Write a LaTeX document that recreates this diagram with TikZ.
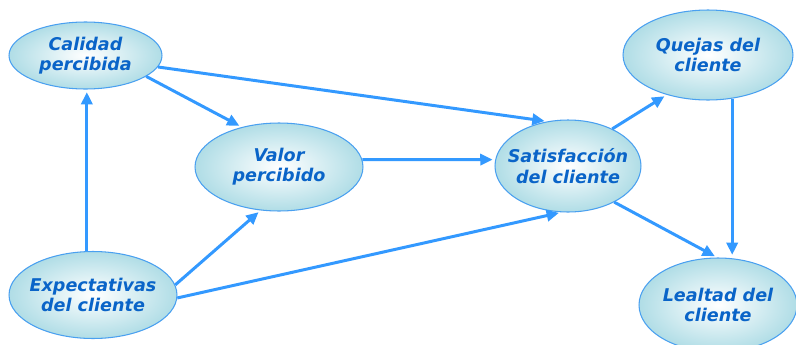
\documentclass[tikz,border=0pt]{standalone}
\usepackage{fontspec}
\newfontfamily\bubblefont{DejaVu Sans}
\usetikzlibrary{shapes.geometric,arrows.meta}

\definecolor{arrowblue}{RGB}{51,153,255}
\definecolor{edgeblue}{RGB}{74,160,240}
\definecolor{bubblecyan}{RGB}{176,221,230}
\definecolor{textblue}{RGB}{10,100,200}

\begin{document}
\begin{tikzpicture}[x=0.02cm, y=-0.02cm,
    bubble/.style={ellipse, draw=edgeblue, line width=0.6pt, inner sep=0pt,
        inner color=white, outer color=bubblecyan},
    txt/.style={text=textblue, align=center,
        font=\bubblefont\bfseries\itshape\fontsize{10}{11.5}\selectfont},
    link/.style={draw=arrowblue, line width=1.7pt, shorten >=1.5pt,
        -{Triangle[length=7pt,width=6.4pt]}}]
    \useasboundingbox (0, 0) rectangle (796, 345);

    % the six constructs (sizes in cm, 1 unit = 0.02cm)
    \node[bubble, minimum width=3.06cm, minimum height=1.34cm] (cal) at (85.5, 55.5) {};
    \node[bubble, minimum width=3.36cm, minimum height=1.76cm] (val) at (279, 167) {};
    \node[bubble, minimum width=2.92cm, minimum height=1.84cm] (sat) at (568, 166) {};
    \node[bubble, minimum width=3.40cm, minimum height=1.80cm] (que) at (708, 55) {};
    \node[bubble, minimum width=3.16cm, minimum height=1.88cm] (lea) at (718, 305) {};
    \node[bubble, minimum width=3.36cm, minimum height=1.74cm] (exp) at (93, 295) {};

    \node[txt] at (cal) {Calidad\\percibida};
    \node[txt] at (val) {Valor\\percibido};
    \node[txt] at (sat) {Satisfacción\\del cliente};
    \node[txt] at (que) {Quejas del\\cliente};
    \node[txt] at (lea) {Lealtad del\\cliente};
    \node[txt] at (exp) {Expectativas\\del cliente};

    % relations
    \draw[link] (exp.98) -- (exp.98 |- cal.south);
    \draw[link] (cal.-19) -- (val.133);
    \draw[link] (cal.-9) -- (sat.115);
    \draw[link] (val.5) -- (sat.175);
    \draw[link] (exp.7) -- (val.-113);
    \draw[link] (exp.-2) -- (sat.-98);
    \draw[link] (sat.40) -- (que.-136);
    \draw[link] (que.-61) -- (que.-61 |- lea.north);
    \draw[link] (sat.-38) -- (lea.91);
\end{tikzpicture}
\end{document}
